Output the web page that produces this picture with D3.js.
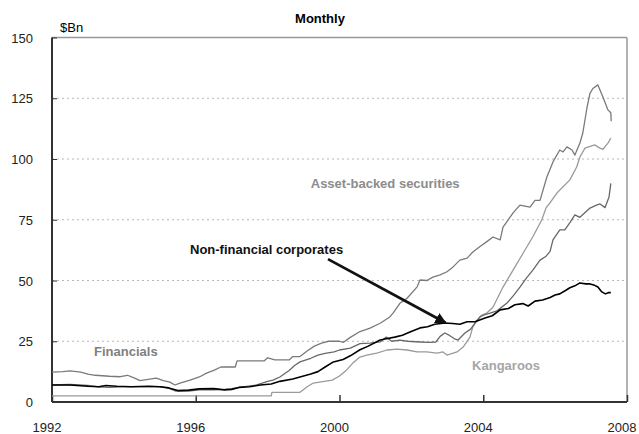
<!DOCTYPE html>
<html>
<head>
<meta charset="utf-8">
<script src="https://cdn.jsdelivr.net/npm/d3@7"></script>
<style>
  body { margin: 0; background: #fff; }
  text { font-family: Arial, "Liberation Sans", sans-serif; }
</style>
</head>
<body>
<div id="chart"></div>
<script>
// Axis ticks
const yTicks = [0, 25, 50, 75, 100, 125, 150];
const xTicks = [1992, 1996, 2000, 2004, 2008];

// Financials (decimal year, $Bn)
const finYears = [1992.0, 1992.3, 1992.5, 1992.8, 1993.0, 1993.2, 1993.6, 1993.9, 1994.1, 1994.3, 1994.45, 1994.9, 1995.1, 1995.28, 1995.42, 1995.56, 1995.84,
  1996.1, 1996.3, 1996.5, 1996.7, 1997.1, 1997.15, 1997.9, 1998.0, 1998.2, 1998.6, 1998.7, 1998.9, 1999.1, 1999.3, 1999.5, 1999.7, 2000.0, 2000.1,
  2000.29, 2000.57, 2000.85, 2001.13, 2001.4, 2001.49, 2001.68, 2001.88, 2002.16, 2002.24, 2002.43, 2002.6, 2002.8, 2002.99, 2003.16, 2003.35, 2003.55,
  2003.71, 2003.91, 2004.1, 2004.27, 2004.47, 2004.55, 2004.83, 2005.02, 2005.3, 2005.44, 2005.58, 2005.77, 2005.94, 2006.13, 2006.22, 2006.33, 2006.47,
  2006.55, 2006.69, 2006.77, 2006.89, 2006.97, 2007.05, 2007.19, 2007.33, 2007.47, 2007.55, 2007.56];
const finVals = [12.3, 12.5, 12.8, 12.3, 11.5, 11, 10.6, 10.4, 11, 9.8, 8.8, 9.8, 8.8, 8.2, 7, 7.8, 9,
  10.3, 11.9, 13, 14.4, 14.4, 16.9, 16.9, 18.2, 17.3, 17.3, 18.7, 18.7, 21, 23, 24.2, 25, 25, 24.5,
  26.5, 29, 30.4, 32.4, 35, 36.6, 40.6, 42.7, 47.4, 50.2, 50, 51.4, 52.3, 53.6, 55.6, 58.4, 59.2,
  61.7, 64, 66, 67.9, 66.7, 72, 77.8, 81, 80.2, 83, 83, 92.6, 98.8, 103.7, 102.9, 105, 103.7,
  101.6, 106.6, 110.7, 121.4, 127, 129, 130.5, 125.5, 120.2, 119, 115.5];

// Kangaroos
const kanYears = [1992.0, 1998.1, 1998.12, 1998.9, 1999.1, 1999.27, 1999.8, 2000.0, 2000.2, 2000.37, 2000.57, 2000.76, 2001.04, 2001.32, 2001.6, 2001.88,
  2002.16, 2002.43, 2002.71, 2002.88, 2002.99, 2003.27, 2003.44, 2003.63, 2003.71, 2003.83, 2003.96, 2004.1, 2004.27, 2004.55, 2004.83, 2005.1,
  2005.38, 2005.63, 2005.75, 2005.86, 2006.05, 2006.41, 2006.6, 2006.69, 2006.83, 2007.1, 2007.25, 2007.33, 2007.47, 2007.55];
const kanVals = [2.5, 2.5, 4, 4, 6.3, 7.8, 9, 10.7, 13.2, 16, 18.5, 19.3, 20.1, 21.4, 21.8, 21.4,
  20.6, 20.6, 20.1, 20.6, 19.3, 20.6, 22.6, 26.7, 30.9, 33.7, 35.8, 36.6, 39, 47.3, 54.3, 61,
  68, 75, 80, 82, 86, 91.4, 96.7, 100.8, 104.5, 105.8, 104.5, 104, 106.5, 108.6];

// Asset-backed securities
const absYears = [1992.0, 1992.5, 1993.0, 1993.3, 1993.6, 1994.0, 1994.5, 1995.0, 1995.25, 1995.45, 1995.8, 1996.1, 1996.5, 1996.8, 1997.0, 1997.3, 1997.7,
  1998.0, 1998.15, 1998.34, 1998.6, 1998.75, 1998.9, 1999.2, 1999.4, 1999.6, 1999.85, 2000.0, 2000.3, 2000.57, 2000.85, 2001.13, 2001.3, 2001.45,
  2001.68, 2001.9, 2002.24, 2002.5, 2002.68, 2002.8, 2002.93, 2003.05, 2003.2, 2003.3, 2003.49, 2003.65, 2003.77, 2003.91, 2004.05, 2004.19, 2004.38,
  2004.66, 2004.85, 2005.02, 2005.2, 2005.38, 2005.58, 2005.75, 2005.86, 2005.94, 2006.13, 2006.27, 2006.42, 2006.55, 2006.69, 2006.97, 2007.15, 2007.25,
  2007.39, 2007.5, 2007.55];
const absVals = [7, 7.2, 6.8, 6.2, 6, 6.3, 6.3, 6.3, 5.7, 4.5, 4.5, 5, 5, 5.2, 5.5, 6.2, 7,
  8.5, 9, 10.3, 13, 15, 16.5, 18, 19.3, 20, 20.6, 21.4, 22.2, 24, 24.2, 24.7, 26.7, 25,
  25.5, 25, 24.7, 24.5, 24.7, 27, 28.4, 27.5, 26, 25.5, 28.4, 30, 32.5, 35, 36, 36.6, 37.5,
  40.7, 44, 47.3, 51, 54.3, 58.4, 60, 62, 66.7, 70.8, 70.8, 74, 77, 76, 79.8, 81, 81.5,
  80, 84.4, 90];

// Non-financial corporates
const nfcYears = [1992.0, 1992.5, 1993.0, 1993.3, 1993.5, 1993.8, 1994.2, 1994.7, 1995.0, 1995.25, 1995.5, 1995.8, 1996.1, 1996.5, 1996.8, 1997.0, 1997.2,
  1997.5, 1997.8, 1998.1, 1998.34, 1998.7, 1998.9, 1999.2, 1999.4, 1999.6, 1999.83, 2000.1, 2000.3, 2000.57, 2000.8, 2001.13, 2001.3, 2001.54, 2001.75,
  2001.96, 2002.24, 2002.45, 2002.65, 2002.93, 2003.15, 2003.35, 2003.55, 2003.77, 2004.05, 2004.25, 2004.47, 2004.7, 2004.88, 2005.1, 2005.25, 2005.44,
  2005.65, 2005.86, 2006.0, 2006.13, 2006.3, 2006.41, 2006.55, 2006.69, 2006.85, 2006.97, 2007.1, 2007.19, 2007.3, 2007.4, 2007.48, 2007.55];
const nfcVals = [7, 7, 6.5, 6.3, 6.8, 6.5, 6.3, 6.5, 6.3, 5.8, 4.7, 4.9, 5.4, 5.5, 5, 5.2, 6,
  6.3, 7, 7.4, 8.5, 9.5, 10.3, 11.5, 12.5, 14.4, 16.5, 17.5, 19, 21.5, 23, 25.5, 26, 26.7, 27.5,
  28.8, 30.5, 31, 32, 32.5, 32.3, 32, 33, 33, 34.6, 35.5, 37.9, 38.5, 40, 40.5, 39.5, 41.5,
  42, 43, 44, 44.5, 46, 47, 47.8, 49, 48.6, 48.6, 48, 47.3, 45.3, 44.5, 45, 45];

// Series labels: [text, year, value]
const labelText = ["Financials", "Asset-backed securities", "Non-financial corporates", "Kangaroos"];
const labelYear = [1993.17, 1999.2, 1995.84, 2003.69];
const labelVal = [18.9, 88, 60.9, 13.2];
const labelColor = ["#808080", "#8c8c8c", "#111", "#a6a6a6"];

// Arrow from NFC label to the line
const arrowFrom = [1999.68, 58.8];
const arrowTo = [2002.95, 32.6];

const W = 639, H = 434;
const margin = { top: 37.5, right: 12, bottom: 32, left: 52 };

const svg = d3.select("#chart").append("svg")
  .attr("width", W)
  .attr("height", H);

const x = d3.scaleLinear().domain([1992, 2008]).range([margin.left, W - margin.right]);
const y = d3.scaleLinear().domain([0, 150]).range([H - margin.bottom, margin.top]);

// Title and unit
svg.append("text")
  .attr("x", 320).attr("y", 23)
  .attr("text-anchor", "middle")
  .attr("font-size", 13).attr("font-weight", "bold")
  .text("Monthly");

svg.append("text")
  .attr("x", 60).attr("y", 32)
  .attr("font-size", 13)
  .text("$Bn");

// Dotted gridlines
svg.selectAll(".grid")
  .data(yTicks.filter(d => d > 0 && d < 150))
  .enter().append("line")
  .attr("class", "grid")
  .attr("x1", x(1992)).attr("x2", x(2008))
  .attr("y1", d => y(d)).attr("y2", d => y(d))
  .attr("stroke", "#b8b8b8")
  .attr("stroke-dasharray", "2,3");

// Top and right frame
svg.append("line")
  .attr("x1", x(1992)).attr("x2", x(2008))
  .attr("y1", y(150)).attr("y2", y(150))
  .attr("stroke", "#999").attr("stroke-width", 1.5);
svg.append("line")
  .attr("x1", x(2008)).attr("x2", x(2008))
  .attr("y1", y(150)).attr("y2", y(0))
  .attr("stroke", "#999").attr("stroke-width", 1.5);

// Axes
const yAxis = svg.append("g")
  .attr("transform", `translate(${x(1992)},0)`)
  .call(d3.axisRight(y).tickValues(yTicks).tickSize(5).tickFormat(""));
yAxis.select(".domain").attr("stroke", "#333").attr("stroke-width", 2).attr("d", `M0,${y(150)}V${y(0)}`);
yAxis.selectAll(".tick line").attr("stroke", "#333");

svg.selectAll(".ylab")
  .data(yTicks)
  .enter().append("text")
  .attr("class", "ylab")
  .attr("x", 33)
  .attr("y", d => y(d) + 5)
  .attr("text-anchor", "end")
  .attr("font-size", 13)
  .attr("fill", "#222")
  .text(d => d);

const xAxis = svg.append("g")
  .attr("transform", `translate(0,${y(0)})`)
  .call(d3.axisTop(x).tickValues(xTicks).tickSize(7).tickFormat(""));
xAxis.select(".domain").attr("stroke", "#333").attr("stroke-width", 2).attr("d", `M${x(1992)},0H${x(2008)}`);
xAxis.selectAll(".tick line").attr("stroke", "#333").attr("stroke-width", 1.5);

svg.selectAll(".xlab")
  .data(xTicks)
  .enter().append("text")
  .attr("class", "xlab")
  .attr("x", d => x(d) - 5)
  .attr("y", 432)
  .attr("text-anchor", "middle")
  .attr("font-size", 13)
  .attr("fill", "#222")
  .text(d => d);

// Lines
const line = d3.line()
  .x(d => x(d[0]))
  .y(d => y(d[1]));

const series = [
  { years: kanYears, vals: kanVals, color: "#9a9a9a", w: 1.3 },
  { years: absYears, vals: absVals, color: "#686868", w: 1.3 },
  { years: finYears, vals: finVals, color: "#7a7a7a", w: 1.3 },
  { years: nfcYears, vals: nfcVals, color: "#000", w: 1.6 }
];

svg.selectAll(".series")
  .data(series)
  .enter().append("path")
  .attr("class", "series")
  .attr("fill", "none")
  .attr("stroke", d => d.color)
  .attr("stroke-width", d => d.w)
  .attr("stroke-linejoin", "round")
  .attr("d", d => line(d.years.map((yr, i) => [yr, d.vals[i]])));

// Labels
svg.selectAll(".slabel")
  .data(labelText)
  .enter().append("text")
  .attr("class", "slabel")
  .attr("x", (d, i) => x(labelYear[i]))
  .attr("y", (d, i) => y(labelVal[i]))
  .attr("font-size", 13)
  .attr("font-weight", "bold")
  .attr("fill", (d, i) => labelColor[i])
  .text(d => d);

// Arrow
svg.append("defs").append("marker")
  .attr("id", "head")
  .attr("viewBox", "0 0 10 10")
  .attr("refX", 9).attr("refY", 5)
  .attr("markerWidth", 4).attr("markerHeight", 4)
  .attr("orient", "auto")
  .append("path")
  .attr("d", "M0,0L10,5L0,10z")
  .attr("fill", "#111");

svg.append("line")
  .attr("x1", x(arrowFrom[0])).attr("y1", y(arrowFrom[1]))
  .attr("x2", x(arrowTo[0])).attr("y2", y(arrowTo[1]))
  .attr("stroke", "#111")
  .attr("stroke-width", 2.8)
  .attr("marker-end", "url(#head)");
</script>
</body>
</html>
